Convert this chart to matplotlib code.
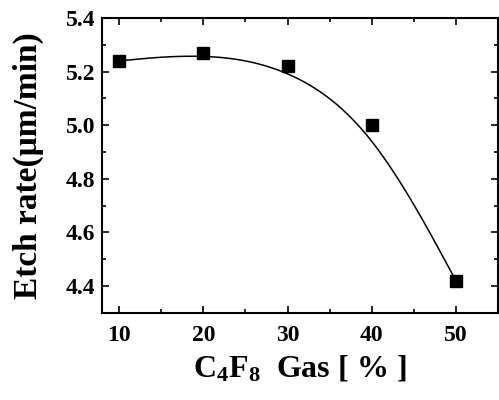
import numpy as np
import matplotlib
matplotlib.use("Agg")
import matplotlib.pyplot as plt
from matplotlib.ticker import MultipleLocator, FormatStrFormatter

plt.rcParams['font.family'] = 'Liberation Serif'
plt.rcParams['font.weight'] = 'bold'
plt.rcParams['mathtext.default'] = 'regular'

# data
gas = [10, 20, 30, 40, 50]
etch_rate = [5.24, 5.27, 5.22, 5.00, 4.42]


def bspline(xs, ys, n=40):
    # uniform cubic B-spline, data points used as control points (ends repeated)
    px = np.r_[[xs[0]] * 2, xs, [xs[-1]] * 2]
    py = np.r_[[ys[0]] * 2, ys, [ys[-1]] * 2]
    t = np.linspace(0, 1, n)
    b = np.array([(1 - t) ** 3,
                  3 * t ** 3 - 6 * t ** 2 + 4,
                  -3 * t ** 3 + 3 * t ** 2 + 3 * t + 1,
                  t ** 3]) / 6
    cx, cy = [], []
    for i in range(len(px) - 3):
        cx.append(b.T @ px[i:i + 4])
        cy.append(b.T @ py[i:i + 4])
    return np.concatenate(cx), np.concatenate(cy)


fig = plt.figure(figsize=(4.99, 4.0), dpi=100)
ax = fig.add_axes([0.205, 0.218, 0.793, 0.737])

sx, sy = bspline(gas, etch_rate)
ax.plot(sx, sy, color='black', lw=1.1)
ax.plot(gas, etch_rate, 's', color='black', ms=8)

ax.set_xlim(8, 55)
ax.set_ylim(4.3, 5.4)
ax.xaxis.set_major_locator(MultipleLocator(10))
ax.xaxis.set_minor_locator(MultipleLocator(5))
ax.yaxis.set_major_locator(MultipleLocator(0.2))
ax.yaxis.set_minor_locator(MultipleLocator(0.1))
ax.yaxis.set_major_formatter(FormatStrFormatter('%.1f'))
ax.tick_params(which='both', direction='in', top=True, right=True,
               labelsize=17, width=1.2)
ax.tick_params(which='major', length=5)
ax.tick_params(which='minor', length=3)
ax.tick_params(axis='x', pad=9)
ax.tick_params(axis='y', pad=5)
for s in ax.spines.values():
    s.set_linewidth(1.5)

ax.set_xlabel('C$_4$F$_8$  Gas [ % ]', fontsize=23, fontweight='bold', labelpad=5)
ax.set_ylabel('Etch rate(\u03bcm/min)', fontsize=24, fontweight='bold', labelpad=16)

fig.savefig('out.png', dpi=100)
